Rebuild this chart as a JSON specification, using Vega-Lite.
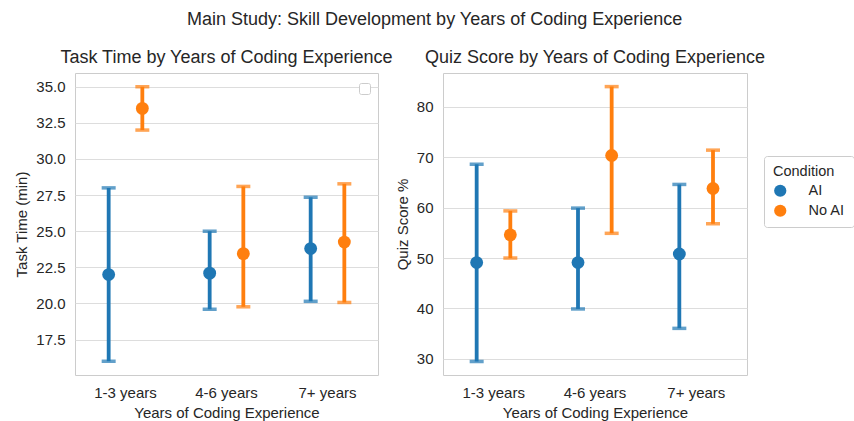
{
  "$schema": "https://vega.github.io/schema/vega-lite/v6.json",
  "padding": {"left": 14, "top": 10, "right": 0, "bottom": 0},
  "bounds": "flush",
  "title": {"text": "Main Study: Skill Development by Years of Coding Experience", "fontSize": 18, "font": "Liberation Sans", "fontWeight": "normal", "anchor": "middle", "color": "#262626", "offset": 20},
  "datasets": {
    "time": [
      {"exp": "1-3 years", "cond": "AI", "mean": 22.0, "lo": 16.0, "hi": 28.0},
      {"exp": "1-3 years", "cond": "No AI", "mean": 33.5, "lo": 32.0, "hi": 35.0},
      {"exp": "4-6 years", "cond": "AI", "mean": 22.1, "lo": 19.6, "hi": 25.0},
      {"exp": "4-6 years", "cond": "No AI", "mean": 23.45, "lo": 19.77, "hi": 28.1},
      {"exp": "7+ years", "cond": "AI", "mean": 23.8, "lo": 20.15, "hi": 27.35},
      {"exp": "7+ years", "cond": "No AI", "mean": 24.25, "lo": 20.07, "hi": 28.28}
    ],
    "quiz": [
      {"exp": "1-3 years", "cond": "AI", "mean": 49.1, "lo": 29.5, "hi": 68.6},
      {"exp": "1-3 years", "cond": "No AI", "mean": 54.6, "lo": 50.0, "hi": 59.35},
      {"exp": "4-6 years", "cond": "AI", "mean": 49.1, "lo": 39.9, "hi": 59.9},
      {"exp": "4-6 years", "cond": "No AI", "mean": 70.35, "lo": 54.9, "hi": 84.0},
      {"exp": "7+ years", "cond": "AI", "mean": 50.8, "lo": 36.05, "hi": 64.6},
      {"exp": "7+ years", "cond": "No AI", "mean": 63.8, "lo": 56.8, "hi": 71.4}
    ]
  },
  "spacing": 65,
  "resolve": {"legend": {"color": "independent", "shape": "independent"}},
  "hconcat": [
    {
      "data": {"name": "time"},
      "width": 303,
      "height": 302,
      "title": "Task Time by Years of Coding Experience",
      "encoding": {
        "x": {"field": "exp", "type": "nominal", "title": "Years of Coding Experience", "scale": {"paddingInner": 0, "paddingOuter": 0}},
        "xOffset": {"field": "cond", "scale": {"type": "point", "padding": 1.129}},
        "color": {"field": "cond", "type": "nominal", "scale": {"domain": ["AI", "No AI"], "range": ["#1f77b4", "#ff7f0e"]}, "legend": null}
      },
      "layer": [
        {"mark": {"type": "rule", "strokeWidth": 3.8}, "encoding": {"y": {"field": "lo", "type": "quantitative", "scale": {"domain": [15.05, 35.95], "nice": false, "zero": false}, "title": "Task Time (min)", "axis": {"values": [17.5, 20, 22.5, 25, 27.5, 30, 32.5, 35], "format": ".1f"}}, "y2": {"field": "hi"}}},
        {"mark": {"type": "tick", "orient": "horizontal", "size": 14, "thickness": 3.5}, "encoding": {"y": {"field": "lo", "type": "quantitative"}}},
        {"mark": {"type": "tick", "orient": "horizontal", "size": 14, "thickness": 3.5}, "encoding": {"y": {"field": "hi", "type": "quantitative"}}},
        {"mark": {"type": "point", "filled": true, "size": 165, "opacity": 1}, "encoding": {
          "y": {"field": "mean", "type": "quantitative"},
          "shape": {"field": "exp", "type": "nominal", "scale": {"range": ["circle", "circle", "circle"]}, "legend": {"values": ["1-3 years"], "title": null, "orient": "none", "legendX": 284, "legendY": 10, "symbolSize": 1, "symbolOpacity": 0, "symbolStrokeWidth": 0, "labelExpr": "''", "labelFontSize": 1, "labelLimit": 1, "labelOffset": 0, "rowPadding": 0, "padding": 5, "fillColor": "#ffffff", "strokeColor": "#cccccc", "cornerRadius": 2}}
        }}
      ]
    },
    {
      "data": {"name": "quiz"},
      "width": 304,
      "height": 302,
      "title": "Quiz Score by Years of Coding Experience",
      "encoding": {
        "x": {"field": "exp", "type": "nominal", "title": "Years of Coding Experience", "scale": {"paddingInner": 0, "paddingOuter": 0}},
        "xOffset": {"field": "cond", "scale": {"type": "point", "padding": 1.129}},
        "color": {"field": "cond", "type": "nominal", "title": "Condition", "scale": {"domain": ["AI", "No AI"], "range": ["#1f77b4", "#ff7f0e"]}, "legend": {"orient": "none", "legendX": 321, "legendY": 83, "symbolType": "circle", "symbolSize": 150, "symbolStrokeWidth": 0, "symbolOpacity": 1, "fillColor": "#ffffff", "strokeColor": "#cccccc", "cornerRadius": 3, "padding": 9, "labelOffset": 21, "rowPadding": 5, "titlePadding": 4}}
      },
      "layer": [
        {"mark": {"type": "rule", "strokeWidth": 3.8}, "encoding": {"y": {"field": "lo", "type": "quantitative", "scale": {"domain": [26.8, 86.7], "nice": false, "zero": false}, "title": "Quiz Score %", "axis": {"values": [30, 40, 50, 60, 70, 80]}}, "y2": {"field": "hi"}}},
        {"mark": {"type": "tick", "orient": "horizontal", "size": 14, "thickness": 3.5}, "encoding": {"y": {"field": "lo", "type": "quantitative"}}},
        {"mark": {"type": "tick", "orient": "horizontal", "size": 14, "thickness": 3.5}, "encoding": {"y": {"field": "hi", "type": "quantitative"}}},
        {"mark": {"type": "point", "filled": true, "size": 165, "opacity": 1}, "encoding": {"y": {"field": "mean", "type": "quantitative"}}}
      ]
    }
  ],
  "config": {
    "font": "Liberation Sans",
    "view": {"stroke": "#cccccc", "strokeWidth": 1},
    "title": {"fontSize": 18, "fontWeight": "normal", "color": "#262626", "font": "Liberation Sans", "offset": 6},
    "axis": {"ticks": false, "domain": false, "gridColor": "#dddddd", "gridWidth": 1, "labelColor": "#262626", "titleColor": "#262626", "labelFontSize": 15, "titleFontSize": 15, "labelFont": "Liberation Sans", "titleFont": "Liberation Sans", "titleFontWeight": "normal"},
    "axisX": {"grid": false, "labelAngle": 0, "labelPadding": 10, "titlePadding": 5},
    "axisY": {"labelPadding": 10, "titlePadding": 6},
    "legend": {"titleFontSize": 14.5, "labelFontSize": 14.5, "titleFontWeight": "normal", "titleColor": "#262626", "labelColor": "#262626", "titleFont": "Liberation Sans", "labelFont": "Liberation Sans"}
  }
}
